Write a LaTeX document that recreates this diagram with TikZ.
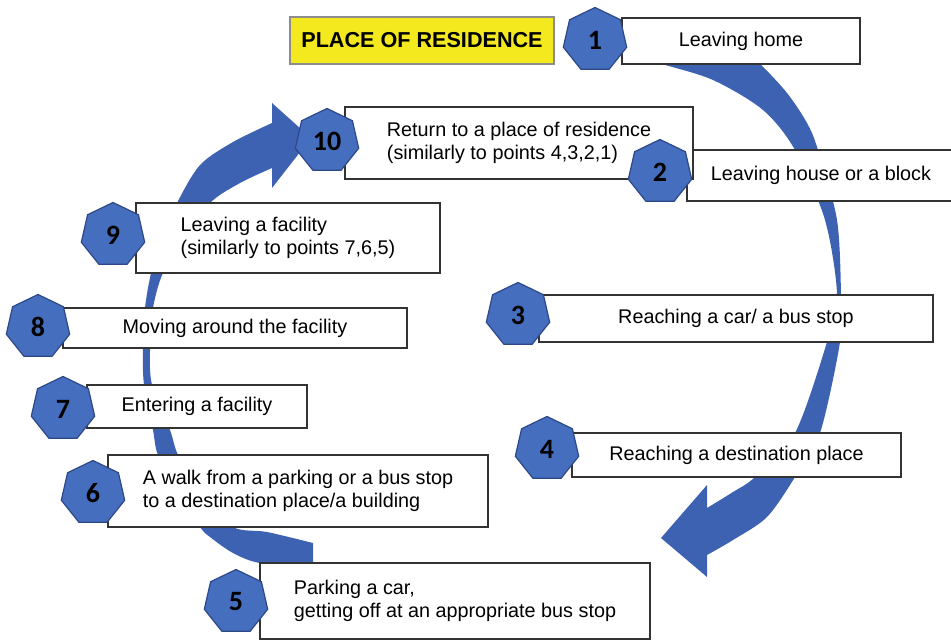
\documentclass[tikz,border=0pt]{standalone}
\usepackage{fontspec}
\setmainfont{Liberation Sans}
\newfontfamily\numfont{Carlito}
\usepackage{xcolor}
\usetikzlibrary{shapes}

\definecolor{arrowblue}{RGB}{61,98,178}
\definecolor{heptblue}{RGB}{70,110,190}
\definecolor{heptline}{RGB}{45,72,135}
\definecolor{resyellow}{RGB}{244,232,30}

\begin{document}
\begin{tikzpicture}[x=0.5pt,y=-0.5pt]
				\useasboundingbox (0,0) rectangle (951,641);
				\clip (0,0) rectangle (951,641);
				\fill[white] (0,0) rectangle (951,641);
				
				\begin{scope}[fill=arrowblue]
					% left arrow, from the bottom up to point 10
					\fill plot[smooth] coordinates {(313,566) (260,563) (233,553) (210,537) (200,527) (178,492) (158,455) (153,430) (144,385) (143,348) (146,300) (158,245) (177,203) (200,165) (233,142) (272,123)}
						-- (272,103) -- (311,138) -- (272,188)
						-- plot[smooth] coordinates {(272,168) (240,183) (210,203) (185,240) (163,273) (153,308) (150,348) (152,385) (170,430) (178,455) (200,495) (233,527) (267,532) (313,543)}
						-- cycle;
					% right arrow, from point 1 down to point 5
					\fill plot[smooth] coordinates {(735,45) (760,64) (787,93) (807,123) (818,150) (837,220) (841,295) (840,342) (820,433) (795,477) (767,517) (733,540) (707,555)}
						-- (707,577) -- (661,538) -- (707,485)
						-- plot[smooth] coordinates {(707,508) (733,492) (755,477) (795,433) (827,342) (837,295) (825,220) (795,150) (763,110) (713,80) (662,64) (635,55)}
						-- cycle;
				\end{scope}
				
				\begin{scope}[every node/.style={draw=black!80,line width=0.7pt,fill=white,inner sep=0pt,align=left,
						font=\fontsize{9.9}{11.2}\selectfont}]
					\node[fill=resyellow,draw=black!45,minimum width=132pt,minimum height=23.5pt,
						font=\fontsize{10.8}{13}\selectfont\bfseries] (R) at (422,40.5) {PLACE OF RESIDENCE};
					\node[minimum width=119pt,minimum height=23pt] (B1) at (741,41) {Leaving home};
					\node[minimum width=134pt,minimum height=25.5pt] (B2) at (821,175.5) {Leaving house or a block};
					\node[minimum width=197pt,minimum height=23.5pt] (B3) at (736,318.5) {Reaching a car/ a bus stop};
					\node[minimum width=164.5pt,minimum height=22pt] (B4) at (736.5,455) {Reaching a destination place};
					\node[minimum width=195pt,minimum height=38pt] (B5) at (455,601) {Parking a car,\\getting off at an appropriate bus stop};
					\node[minimum width=190pt,minimum height=36pt] (B6) at (298,491) {A walk from a parking or a bus stop\\to a destination place/a building};
					\node[minimum width=110pt,minimum height=21.5pt] (B7) at (197,406.5) {Entering a facility};
					\node[minimum width=172pt,minimum height=20pt] (B8) at (235,328) {Moving around the facility};
					\node[minimum width=152pt,minimum height=35pt] (B9) at (288,238) {Leaving a facility\\(similarly to points 7,6,5)};
					\node[minimum width=174pt,minimum height=36pt] (B10) at (519,143) {Return to a place of residence\\(similarly to points 4,3,2,1)};
				\end{scope}
				
				\begin{scope}[every node/.style={regular polygon,regular polygon sides=7,minimum size=32.5pt,inner sep=0pt,
						fill=heptblue,draw=heptline,line width=0.6pt,font=\numfont\bfseries\fontsize{14}{14}\selectfont}]
					\node (H1) at (595,40) {1};
					\node (H2) at (660,172) {2};
					\node (H3) at (518,315) {3};
					\node (H4) at (547,449) {4};
					\node (H5) at (236,602) {5};
					\node (H6) at (93,493) {6};
					\node (H7) at (63,409) {7};
					\node (H8) at (38,327) {8};
					\node (H9) at (113,235) {9};
					\node (H10) at (327,141) {10};
				\end{scope}
			\end{tikzpicture}
\end{document}
